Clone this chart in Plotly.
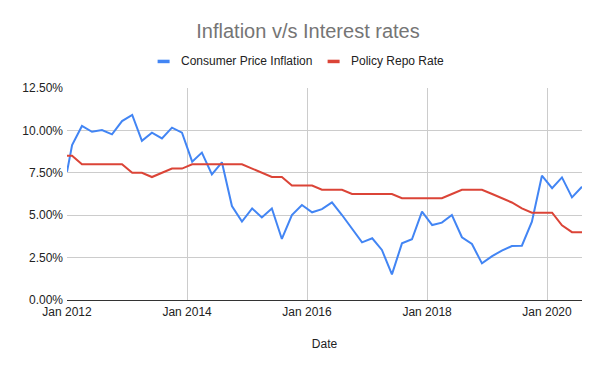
import plotly.graph_objects as go

dates = ["2012-01-01", "2012-02-01", "2012-04-01", "2012-06-01", "2012-08-01", "2012-10-01", "2012-12-01",
         "2013-02-01", "2013-04-01", "2013-06-01", "2013-08-01", "2013-10-01", "2013-12-01",
         "2014-02-01", "2014-04-01", "2014-06-01", "2014-08-01", "2014-10-01", "2014-12-01",
         "2015-02-01", "2015-04-01", "2015-06-01", "2015-08-01", "2015-10-01", "2015-12-01",
         "2016-02-01", "2016-04-01", "2016-06-01", "2016-08-01", "2016-10-01", "2016-12-01",
         "2017-02-01", "2017-04-01", "2017-06-01", "2017-08-01", "2017-10-01", "2017-12-01",
         "2018-02-01", "2018-04-01", "2018-06-01", "2018-08-01", "2018-10-01", "2018-12-01",
         "2019-02-01", "2019-04-01", "2019-06-01", "2019-08-01", "2019-10-01", "2019-12-01",
         "2020-02-01", "2020-04-01", "2020-06-01", "2020-08-01"]

cpi_inflation = [7.56, 9.14, 10.26, 9.92, 10.02, 9.77, 10.55,
                 10.91, 9.39, 9.87, 9.53, 10.16, 9.87,
                 8.16, 8.69, 7.41, 8.12, 5.54, 4.62,
                 5.40, 4.87, 5.40, 3.60, 5.01, 5.60,
                 5.17, 5.36, 5.76, 5.01, 4.19, 3.40,
                 3.64, 2.95, 1.51, 3.34, 3.58, 5.21,
                 4.42, 4.56, 5.01, 3.70, 3.30, 2.16,
                 2.59, 2.91, 3.18, 3.20, 4.62, 7.33,
                 6.59, 7.23, 6.05, 6.68]

repo_rate = [8.5, 8.5, 8.0, 8.0, 8.0, 8.0, 8.0,
             7.5, 7.5, 7.25, 7.5, 7.75, 7.75,
             8.0, 8.0, 8.0, 8.0, 8.0, 8.0,
             7.75, 7.5, 7.25, 7.25, 6.75, 6.75,
             6.75, 6.5, 6.5, 6.5, 6.25, 6.25,
             6.25, 6.25, 6.25, 6.0, 6.0, 6.0,
             6.0, 6.0, 6.25, 6.5, 6.5, 6.5,
             6.25, 6.0, 5.75, 5.4, 5.15, 5.15,
             5.15, 4.4, 4.0, 4.0]

series_names = ["Consumer Price Inflation", "Policy Repo Rate"]
series_colors = ["#4285F4", "#DB4437"]

x_ticks = ["2012-01-01", "2014-01-01", "2016-01-01", "2018-01-01", "2020-01-01"]
x_tick_labels = ["Jan 2012", "Jan 2014", "Jan 2016", "Jan 2018", "Jan 2020"]
y_ticks = [0, 2.5, 5, 7.5, 10, 12.5]
y_tick_labels = ["0.00%", "2.50%", "5.00%", "7.50%", "10.00%", "12.50%"]

FONT = "Liberation Sans, Arial, sans-serif"
W, H = 600, 371
ML, MR, MT, MB = 58.7, 26.3, 80.3, 78.7
PW, PH = W - ML - MR, H - MT - MB


def px_x(v):
    return (v - ML) / PW


def px_y(v):
    return (H - MB - v) / PH


fig = go.Figure()
for name, vals, col in zip(series_names, [cpi_inflation, repo_rate], series_colors):
    fig.add_trace(go.Scatter(x=dates, y=vals, mode="lines", name=name,
                             line=dict(color=col, width=2), showlegend=False))

# manual legend (short thick swatches like the reference)
legend_swatch_x = [149.3, 319.3]
shapes = []
annotations = []
for sx, name, col in zip(legend_swatch_x, series_names, series_colors):
    shapes.append(dict(type="rect", xref="paper", yref="paper",
                       x0=px_x(sx), x1=px_x(sx + 12), y0=px_y(55.5), y1=px_y(52),
                       fillcolor=col, line=dict(width=0)))
    annotations.append(dict(text=name, xref="paper", yref="paper", x=px_x(sx + 21.5), y=px_y(53.5),
                            xanchor="left", yanchor="middle", showarrow=False,
                            font=dict(family=FONT, size=12, color="#222222")))

fig.update_layout(
    width=W, height=H,
    margin=dict(l=ML, r=MR, t=MT, b=MB),
    paper_bgcolor="white", plot_bgcolor="white",
    font=dict(family=FONT, size=12, color="#222222"),
    title=dict(text="Inflation v/s Interest rates", x=0.5, xanchor="center",
               y=1 - 23 / H, yanchor="middle",
               font=dict(family=FONT, size=20, color="#757575")),
    shapes=shapes,
    annotations=annotations,
    showlegend=False,
)
fig.update_xaxes(
    type="date", range=["2012-01-01", "2020-08-01"],
    tickvals=x_ticks, ticktext=x_tick_labels,
    showgrid=True, gridcolor="#cccccc", gridwidth=1,
    showline=True, linecolor="#333333", linewidth=1.3,
    zeroline=False, ticks="",
    title=dict(text="Date", font=dict(family=FONT, size=12, color="#222222"), standoff=22),
    tickfont=dict(family=FONT, size=12, color="#222222"),
)
fig.update_yaxes(
    range=[0, 12.5], tickvals=y_ticks, ticktext=y_tick_labels,
    showgrid=True, gridcolor="#cccccc", gridwidth=1,
    zeroline=False, showline=False, ticks="", ticklabelstandoff=3,
    tickfont=dict(family=FONT, size=12, color="#222222"),
)

fig.write_html("out.html")
